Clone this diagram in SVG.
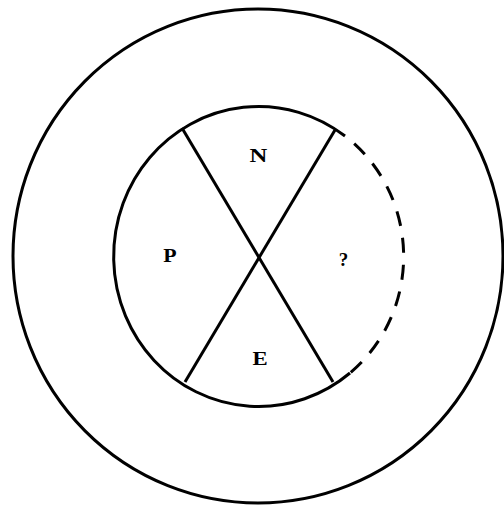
<svg xmlns="http://www.w3.org/2000/svg" width="504" height="505" viewBox="0 0 504 505">
<style>
.ln{fill:none;stroke:#000;stroke-width:3}
.dash{fill:none;stroke:#000;stroke-width:3;stroke-dasharray:15 12;stroke-dashoffset:15}
.lbl{font-family:"Liberation Serif",serif;font-weight:bold;font-size:19px;fill:#000;text-anchor:middle}
</style>
<rect width="504" height="505" fill="#fff"/>
<g id="outer"><ellipse class="ln" cx="258" cy="256" rx="245" ry="247"/></g>
<g id="inner">
<path class="ln" d="M 345 136 A 145 150 0 1 0 350 373"/>
<path class="dash" d="M 345 136 A 145 150 0 0 1 350 373"/>
</g>
<g id="connectors">
<line class="ln" x1="182" y1="128" x2="333" y2="382"/>
<line class="ln" x1="335" y1="130" x2="185" y2="382"/>
</g>
<g id="n-N"><text class="lbl" x="258.5" y="162" transform="translate(258.5 0) scale(1.3 1) translate(-258.5 0)">N</text></g>
<g id="n-P"><text class="lbl" x="170" y="262" transform="translate(170 0) scale(1.15 1) translate(-170 0)">P</text></g>
<g id="n-Q"><text class="lbl" x="343.5" y="266">?</text></g>
<g id="n-E"><text class="lbl" x="260" y="365" transform="translate(260 0) scale(1.2 1) translate(-260 0)">E</text></g>
</svg>
